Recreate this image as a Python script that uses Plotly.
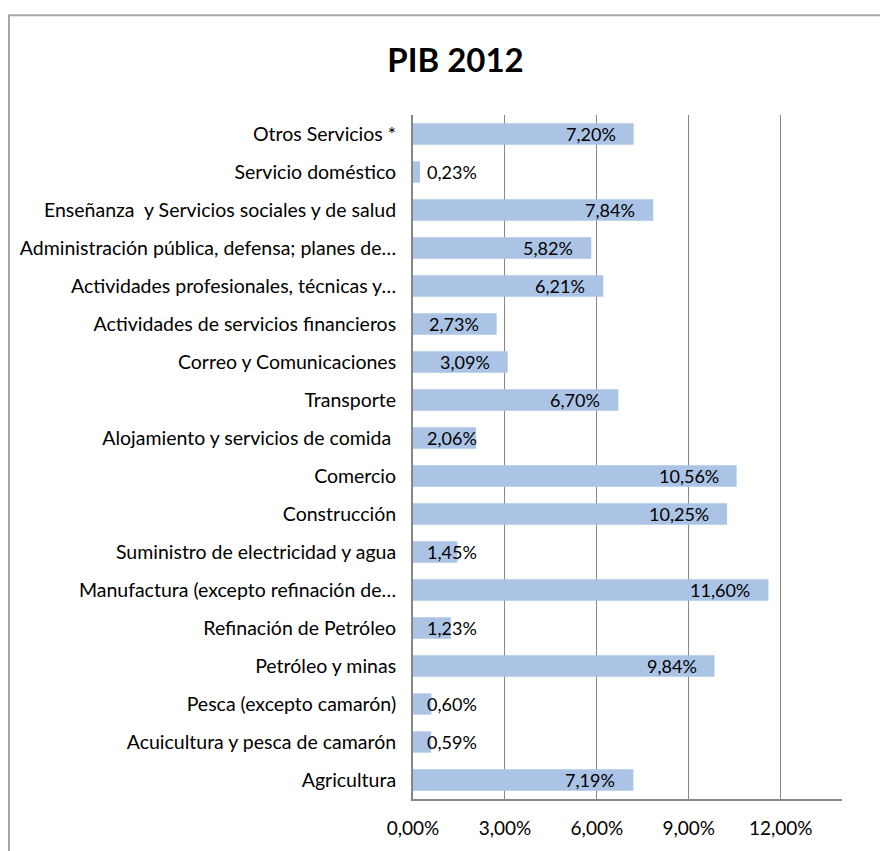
import plotly.graph_objects as go

categories = [
    "Agricultura",
    "Acuicultura y pesca de camarón",
    "Pesca (excepto camarón)",
    "Petróleo y minas",
    "Refinación de Petróleo",
    "Manufactura (excepto refinación de…",
    "Suministro de electricidad y agua",
    "Construcción",
    "Comercio",
    "Alojamiento y servicios de comida ",
    "Transporte",
    "Correo y Comunicaciones",
    "Actividades de servicios financieros",
    "Actividades profesionales, técnicas y…",
    "Administración pública, defensa; planes de…",
    "Enseñanza  y Servicios sociales y de salud",
    "Servicio doméstico",
    "Otros Servicios *",
]
values = [7.19, 0.59, 0.60, 9.84, 1.23, 11.60, 1.45, 10.25, 10.56, 2.06,
          6.70, 3.09, 2.73, 6.21, 5.82, 7.84, 0.23, 7.20]
tick_vals = [0, 3, 6, 9, 12]
tick_text = ["0,00%", "3,00%", "6,00%", "9,00%", "12,00%"]

FONT = "Lato, Carlito, Calibri, sans-serif"
GRID = "#868686"
L, T, PW, PH = 405, 107, 429, 686

fig = go.Figure(go.Bar(
    y=categories, x=values, orientation="h",
    marker=dict(color="#ABC4E6", line=dict(width=0)),
    hoverinfo="skip",
))

annotations = []
for c, v in zip(categories, values):
    lbl = f"{v:.2f}".replace(".", ",") + "%"
    if v < 2.65:
        annotations.append(dict(x=0, y=c, xref="x", yref="y", text=lbl,
                                xanchor="left", xshift=12, showarrow=False,
                                font=dict(family=FONT, size=18, color="#000")))
    else:
        annotations.append(dict(x=v, y=c, xref="x", yref="y", text=lbl,
                                xanchor="right", xshift=-16, showarrow=False,
                                font=dict(family=FONT, size=18, color="#000")))

fig.update_layout(
    width=880, height=843,
    margin=dict(l=L, r=880 - L - PW, t=T, b=843 - T - PH),
    paper_bgcolor="white", plot_bgcolor="white",
    font=dict(family=FONT, size=19, color="#000"),
    title=dict(text="<b>PIB 2012</b>", x=(447.5) / 880, xanchor="center",
               y=1 - 52 / 843, yanchor="middle",
               font=dict(family=FONT, size=33, color="#000")),
    bargap=0.44,
    showlegend=False,
    annotations=annotations,
    xaxis=dict(range=[0, 14], tickvals=tick_vals, ticktext=tick_text,
               showgrid=True, gridcolor=GRID, gridwidth=1,
               showline=True, linecolor=GRID, linewidth=2,
               zeroline=False, ticks="", ticklabelstandoff=11,
               tickfont=dict(family=FONT, size=19, color="#000")),
    yaxis=dict(showline=True, linecolor=GRID, linewidth=2, showgrid=False,
               zeroline=False, ticks="", ticklabelstandoff=11,
               tickfont=dict(family=FONT, size=19.5, color="#000")),
    shapes=[dict(type="rect", xref="paper", yref="paper",
                 x0=(1 - L) / PW, x1=1.3,
                 y0=-0.3, y1=(T + PH - 7) / PH,
                 line=dict(color="#A6A6A6", width=2), layer="below")],
)

fig.write_html("out.html")
